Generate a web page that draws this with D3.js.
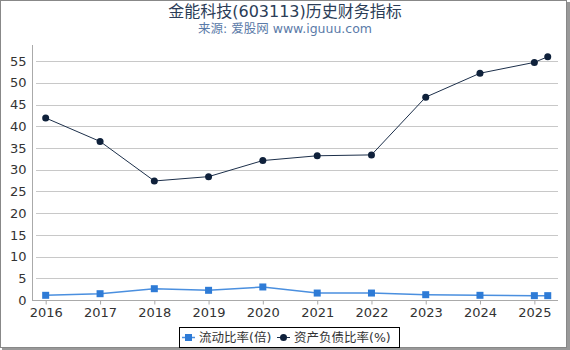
<!DOCTYPE html>
<html>
<head>
<meta charset="utf-8">
<script src="https://d3js.org/d3.v7.min.js"></script>
<style>
	body {
		margin: 0;
		font-family: "DejaVu Sans", "Noto Sans CJK SC", sans-serif;
	}
	.grid line {
		stroke: #c8c8c8;
	}
	.tick-label {
		font-size: 13px;
		fill: #333;
	}
</style>
</head>
<body>
<script>
	// data
	var dates = ["2016-01-01", "2017-01-01", "2018-01-01", "2019-01-01", "2020-01-01",
				 "2021-01-01", "2022-01-01", "2023-01-01", "2024-01-01", "2025-01-01", "2025-04-01"];
	var currentRatio = [1.08, 1.45, 2.6, 2.23, 3.0, 1.6, 1.6, 1.22, 1.08, 1.0, 1.0];
	var debtRatio = [41.9, 36.5, 27.4, 28.4, 32.1, 33.2, 33.4, 46.7, 52.2, 54.7, 56.0];
	var yTicks = [0, 5, 10, 15, 20, 25, 30, 35, 40, 45, 50, 55];
	var xTickYears = [2016, 2017, 2018, 2019, 2020, 2021, 2022, 2023, 2024, 2025];
	var seriesNames = ["流动比率(倍)", "资产负债比率(%)"];

	var parse = d3.timeParse("%Y-%m-%d");
	var W = 570, H = 350;
	var m = {left: 32, right: 558, top: 45, bottom: 300};

	var svg = d3.select("body").append("svg")
		.attr("width", W).attr("height", H);

	// frame
	svg.append("rect").attr("x", 566).attr("y", 2).attr("width", 4).attr("height", 348).attr("fill", "#999");
	svg.append("rect").attr("x", 2).attr("y", 347).attr("width", 568).attr("height", 3).attr("fill", "#999");
	svg.append("rect").attr("x", 0.5).attr("y", 0.5).attr("width", 566).attr("height", 347)
		.attr("fill", "white").attr("stroke", "#888");

	svg.append("text").attr("x", 285).attr("y", 17).attr("text-anchor", "middle")
		.style("font-size", "16px").style("fill", "#2b3d57")
		.text("金能科技(603113)历史财务指标");
	svg.append("text").attr("x", 285).attr("y", 33).attr("text-anchor", "middle")
		.style("font-size", "12.5px").style("fill", "#5a7aa8")
		.text("来源: 爱股网 www.iguuu.com");

	var x = d3.scaleTime()
		.domain([parse("2015-10-01"), parse("2025-06-09")])
		.range([m.left, m.right]);
	var y = d3.scaleLinear().domain([0, 58.7]).range([m.bottom, m.top]);

	// grid
	var grid = svg.append("g").attr("class", "grid");
	grid.selectAll("line").data(yTicks.filter(function(d) { return d > 0; }))
		.enter().append("line")
		.attr("x1", m.left + 4).attr("x2", m.right)
		.attr("y1", function(d) { return Math.round(y(d)) + 0.5; })
		.attr("y2", function(d) { return Math.round(y(d)) + 0.5; });

	// y axis
	var yAxis = svg.append("g").attr("transform", "translate(" + (m.left + 0.5) + ",0)")
		.call(d3.axisLeft(y).tickValues(yTicks).tickSize(0).tickPadding(6));
	yAxis.select(".domain").attr("stroke", "#aaa").attr("d", "M0," + m.top + "V" + m.bottom);
	yAxis.selectAll("text").attr("class", "tick-label").style("font-family", "DejaVu Sans").style("font-size", "13px");

	// x axis
	var xAxis = svg.append("g").attr("transform", "translate(0," + (m.bottom + 0.5) + ")")
		.call(d3.axisBottom(x)
			.tickValues(xTickYears.map(function(d) { return new Date(d, 0, 1); }))
			.tickFormat(d3.timeFormat("%Y")).tickSize(4).tickPadding(3));
	xAxis.select(".domain").attr("stroke", "#aaa").attr("d", "M" + m.left + ",0H" + m.right);
	xAxis.selectAll(".tick line").attr("stroke", "#aaa");
	xAxis.selectAll("text").attr("class", "tick-label").style("font-family", "DejaVu Sans").style("font-size", "13px");

	var pts = dates.map(function(d, i) {
		return {date: parse(d), cur: currentRatio[i], debt: debtRatio[i]};
	});

	// debt ratio line
	svg.append("path").datum(pts)
		.attr("fill", "none").attr("stroke", "#1c2f4a").attr("stroke-width", 1)
		.attr("d", d3.line().x(function(d) { return x(d.date); }).y(function(d) { return y(d.debt); }));
	svg.selectAll(".dot").data(pts).enter().append("circle")
		.attr("cx", function(d) { return x(d.date); })
		.attr("cy", function(d) { return y(d.debt); })
		.attr("r", 3.5).attr("fill", "#0f213b");

	// current ratio line
	svg.append("path").datum(pts)
		.attr("fill", "none").attr("stroke", "#4a8fdf").attr("stroke-width", 1.5)
		.attr("d", d3.line().x(function(d) { return x(d.date); }).y(function(d) { return y(d.cur); }));
	svg.selectAll(".sq").data(pts).enter().append("rect")
		.attr("x", function(d) { return x(d.date) - 3.5; })
		.attr("y", function(d) { return y(d.cur) - 3.5; })
		.attr("width", 7).attr("height", 7).attr("fill", "#2e7bd6");

	// legend
	var lg = svg.append("g");
	lg.append("rect").attr("x", 179.5).attr("y", 327.5).attr("width", 220).attr("height", 20)
		.attr("fill", "white").attr("stroke", "#000");
	lg.append("line").attr("x1", 182).attr("x2", 195).attr("y1", 337.5).attr("y2", 337.5)
		.attr("stroke", "#4a8fdf").attr("stroke-width", 1.5);
	lg.append("rect").attr("x", 185).attr("y", 334).attr("width", 7).attr("height", 7).attr("fill", "#2e7bd6");
	lg.append("text").attr("x", 199).attr("y", 342).style("font-size", "12.5px").style("fill", "#333")
		.text(seriesNames[0]);
	lg.append("line").attr("x1", 277).attr("x2", 290).attr("y1", 337.5).attr("y2", 337.5)
		.attr("stroke", "#1c2f4a").attr("stroke-width", 1);
	lg.append("circle").attr("cx", 283.5).attr("cy", 337.5).attr("r", 3.5).attr("fill", "#0f213b");
	lg.append("text").attr("x", 294).attr("y", 342).style("font-size", "12.5px").style("fill", "#333")
		.text(seriesNames[1]);
</script>
</body>
</html>
